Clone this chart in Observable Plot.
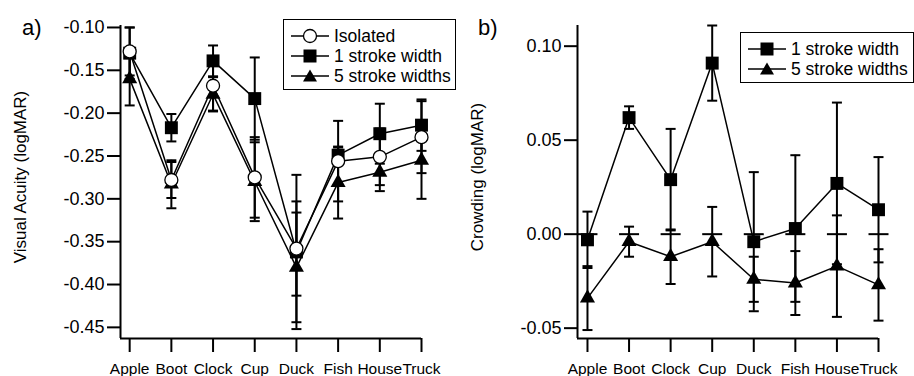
<!DOCTYPE html>
<html>
<head>
<meta charset="utf-8">
<script src="https://cdn.jsdelivr.net/npm/d3@7"></script>
<script src="https://cdn.jsdelivr.net/npm/@observablehq/plot@0.6"></script>
<style>
  body { margin: 0; background: white; }
  #wrap { position: relative; width: 914px; height: 376px; display: flex; font-family: "Liberation Sans", Arial, sans-serif; color: black; }
  .panelLabel { position: absolute; font-size: 22px; line-height: 22px; }
  .legend { position: absolute; border: 1.5px solid black; background: white; box-sizing: border-box; }
  .row { position: absolute; left: 0; height: 20px; display: flex; align-items: center; font-size: 17.5px; white-space: nowrap; }
  .row svg { display: block; }
</style>
</head>
<body>
<div id="wrap"></div>
<script>
// ---- data ----
const categories = ["Apple", "Boot", "Clock", "Cup", "Duck", "Fish", "House", "Truck"];

// panel a: visual acuity (logMAR)
const isolatedA      = [-0.128, -0.278, -0.168, -0.275, -0.358, -0.256, -0.251, -0.228];
const isolatedErrA   = [0.028, 0.021, 0.029, 0.047, 0.055, 0.047, 0.033, 0.042];
const oneStrokeA     = [-0.130, -0.217, -0.139, -0.183, -0.362, -0.249, -0.224, -0.214];
const oneStrokeErrA  = [0.030, 0.016, 0.018, 0.048, 0.090, 0.009, 0.035, 0.030];
const fiveStrokeA    = [-0.160, -0.283, -0.178, -0.280, -0.380, -0.281, -0.269, -0.255];
const fiveStrokeErrA = [0.031, 0.028, 0.020, 0.046, 0.064, 0.042, 0.022, 0.045];

// panel b: crowding (logMAR)
const oneStrokeB     = [-0.003, 0.062, 0.029, 0.091, -0.004, 0.003, 0.027, 0.013];
const oneStrokeErrB  = [0.015, 0.006, 0.027, 0.020, 0.037, 0.039, 0.043, 0.028];
const fiveStrokeB    = [-0.034, -0.004, -0.012, -0.004, -0.024, -0.026, -0.017, -0.027];
const fiveStrokeErrB = [0.017, 0.008, 0.0145, 0.0185, 0.012, 0.017, 0.027, 0.019];

const yTicksA = [-0.10, -0.15, -0.20, -0.25, -0.30, -0.35, -0.40, -0.45];
const yTicksB = [-0.05, 0.00, 0.05, 0.10];

const labelA = "Visual Acuity (logMAR)";
const labelB = "Crowding (logMAR)";
const seriesNames = ["Isolated", "1 stroke width", "5 stroke widths"];

// ---- helpers ----
const toRows = (vals, errs) => vals.map((v, i) => ({i, v, e: errs[i]}));
const hline = {draw(ctx, size) { const r = Math.sqrt(size / Math.PI); ctx.moveTo(-r, 0); ctx.lineTo(r, 0); }};

const marker = {
  circle:   {symbol: "circle", r: 6.5, fill: "white", stroke: "black", strokeWidth: 1.3},
  square:   {symbol: "square", r: 7.3, fill: "black", stroke: "none"},
  triangle: {symbol: "triangle", r: 5.6, fill: "black", stroke: "none"}
};

function errorMarks(rows) {
  return [
    Plot.ruleX(rows, {x: "i", y1: d => d.v - d.e, y2: d => d.v + d.e, stroke: "black", strokeWidth: 2}),
    Plot.dot(rows, {x: "i", y: d => d.v + d.e, symbol: hline, r: 5, stroke: "black", strokeWidth: 2}),
    Plot.dot(rows, {x: "i", y: d => d.v - d.e, symbol: hline, r: 5, stroke: "black", strokeWidth: 2})
  ];
}

function panel({yDomain, yTicks, series, label, xDomain, zeroDashes}) {
  const marks = [];
  if (zeroDashes) {
    marks.push(Plot.dot(d3.range(categories.length), {x: d => d, y: 0, symbol: hline, r: 10, stroke: "black", strokeWidth: 2}));
  }
  for (const s of series) marks.push(Plot.line(s.rows, {x: "i", y: "v", stroke: "black", strokeWidth: 1.5}));
  for (const s of series) marks.push(...errorMarks(s.rows));
  for (const s of series) marks.push(Plot.dot(s.rows, {x: "i", y: "v", ...marker[s.marker]}));
  marks.push(
    Plot.axisY(yTicks, {tickSize: 13, tickPadding: 3, tickFormat: d => d.toFixed(2), fontSize: 18, strokeWidth: 2, label: null}),
    Plot.axisX(d3.range(categories.length), {tickSize: 14, tickPadding: 10, tickFormat: i => categories[i], fontSize: 15.5, strokeWidth: 2, label: null}),
    Plot.ruleX([xDomain[0]], {stroke: "black", strokeWidth: 2}),
    Plot.ruleY([yDomain[0]], {stroke: "black", strokeWidth: 2}),
    Plot.text([label], {frameAnchor: "left", textAnchor: "middle", lineAnchor: "middle", dx: -100, dy: -5, rotate: -90, fontSize: 17, fill: "black"})
  );
  return Plot.plot({
    width: 457, height: 376,
    marginLeft: 120, marginRight: 36, marginTop: 25, marginBottom: 38,
    x: {domain: xDomain, axis: null},
    y: {domain: yDomain, axis: null},
    style: {fontFamily: "'Liberation Sans', Arial, sans-serif", color: "black", background: "white", overflow: "visible"},
    marks
  });
}

const wrap = document.getElementById("wrap");
wrap.append(panel({
  xDomain: [-0.22, 7],
  yDomain: [-0.463, -0.0977],
  yTicks: yTicksA,
  label: labelA,
  series: [
    {rows: toRows(oneStrokeA, oneStrokeErrA), marker: "square"},
    {rows: toRows(fiveStrokeA, fiveStrokeErrA), marker: "triangle"},
    {rows: toRows(isolatedA, isolatedErrA), marker: "circle"}
  ]
}));
wrap.append(panel({
  xDomain: [-0.24, 7],
  yDomain: [-0.0555, 0.111],
  yTicks: yTicksB,
  label: labelB,
  zeroDashes: true,
  series: [
    {rows: toRows(oneStrokeB, oneStrokeErrB), marker: "square"},
    {rows: toRows(fiveStrokeB, fiveStrokeErrB), marker: "triangle"}
  ]
}));

// panel labels
for (const [t, x] of [["a)", 22], ["b)", 478]]) {
  const d = document.createElement("div");
  d.className = "panelLabel"; d.textContent = t;
  d.style.left = x + "px"; d.style.top = "17px";
  wrap.append(d);
}

// legends
function symbolSvg(kind) {
  const m = {
    circle: '<circle cx="19" cy="10" r="6.5" fill="white" stroke="black" stroke-width="1.3"/>',
    square: '<rect x="12.5" y="3.5" width="13" height="13" fill="black"/>',
    triangle: '<path d="M19,3.5 L26,15.5 L12,15.5 Z" fill="black"/>'
  }[kind];
  return `<svg width="40" height="20"><line x1="0" y1="10" x2="38" y2="10" stroke="black" stroke-width="1.5"/>${m}</svg>`;
}
function legend(left, top, width, height, items) {
  const box = document.createElement("div");
  box.className = "legend";
  Object.assign(box.style, {left: left + "px", top: top + "px", width: width + "px", height: height + "px"});
  items.forEach(([name, kind], k) => {
    const r = document.createElement("div");
    r.className = "row";
    r.style.top = (6 + k * 20) + "px";
    r.style.left = "7px";
    r.innerHTML = symbolSvg(kind) + `<span style="margin-left:3px">${name}</span>`;
    box.append(r);
  });
  wrap.append(box);
}
legend(283, 19, 173, 71, [[seriesNames[0], "circle"], [seriesNames[1], "square"], [seriesNames[2], "triangle"]]);
legend(740, 32, 174, 51, [[seriesNames[1], "square"], [seriesNames[2], "triangle"]]);
</script>
</body>
</html>
